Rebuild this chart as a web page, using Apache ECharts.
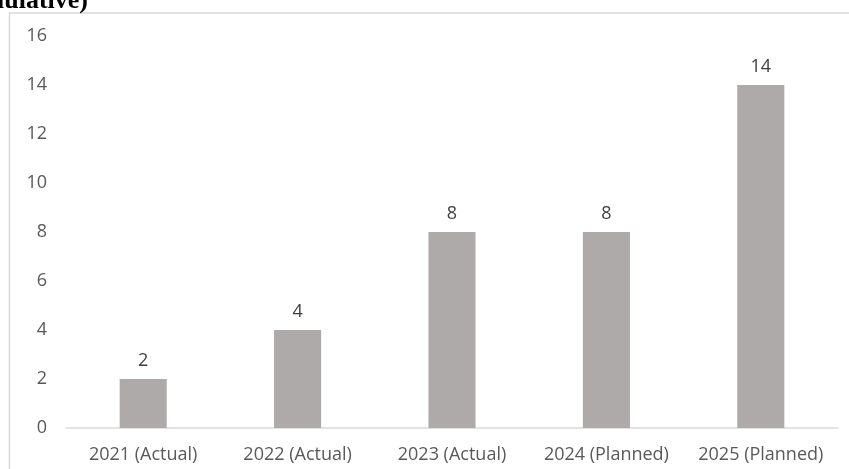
<!DOCTYPE html>
<html><head><meta charset="utf-8">
<script src="https://cdn.jsdelivr.net/npm/echarts@6/dist/echarts.min.js"></script>
<style>html,body{margin:0;padding:0;background:#fff}#c{width:849px;height:469px}</style>
</head><body><div id="c"></div>
<script>
const categories = ['2021 (Actual)', '2022 (Actual)', '2023 (Actual)', '2024 (Planned)', '2025 (Planned)'];
const values = [2, 4, 8, 8, 14];
const yTicks = [0, 2, 4, 6, 8, 10, 12, 14, 16];
const titleText = '(Cumulative)';

const chart = echarts.init(document.getElementById('c'), null, {renderer: 'canvas'});
chart.setOption({
  animation: false,
  backgroundColor: '#fff',
  graphic: [
    {type: 'rect', shape: {x: 9.5, y: 13, width: 845, height: 470}, style: {fill: 'none', stroke: '#d9d9d9', lineWidth: 1.5}},
    {type: 'text', style: {text: titleText, x: 88, y: 14, align: 'right', verticalAlign: 'bottom', font: 'bold 26px "Liberation Serif"', fill: '#000'}}
  ],
  grid: {left: 66, right: 11, top: 36, bottom: 41},
  xAxis: {
    type: 'category', data: categories,
    axisLine: {lineStyle: {color: '#d9d9d9', width: 1.5}},
    axisTick: {show: false},
    axisLabel: {color: '#595959', fontSize: 18, fontFamily: 'Open Sans', margin: 18, interval: 0, hideOverlap: false}
  },
  yAxis: {
    type: 'value', min: yTicks[0], max: yTicks[yTicks.length - 1], interval: 2,
    axisLine: {show: false}, axisTick: {show: false}, splitLine: {show: false},
    axisLabel: {color: '#595959', fontSize: 18, fontFamily: 'Open Sans', margin: 19}
  },
  series: [{
    type: 'bar', data: values, barWidth: '30.5%',
    itemStyle: {color: '#aeaaaa'},
    label: {show: true, position: 'top', distance: 9, color: '#404040', fontSize: 18, fontFamily: 'Open Sans'}
  }]
});
</script></body></html>
